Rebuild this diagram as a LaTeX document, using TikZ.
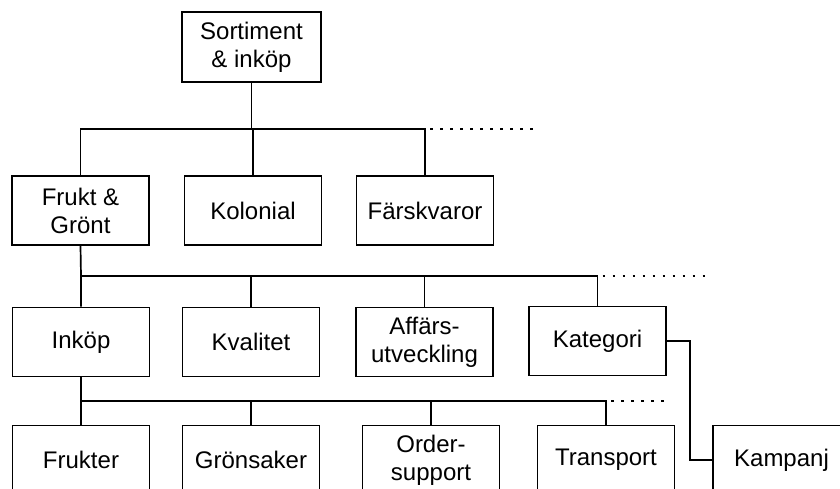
\documentclass[tikz,border=0pt]{standalone}
\usepackage{fontspec}
\setmainfont{Liberation Sans}
\begin{document}
\begin{tikzpicture}[x=1pt,y=-1pt,
  box/.style={draw,line width=1.6pt,minimum width=137pt,minimum height=69pt,
    inner sep=0pt,align=center,font=\fontsize{24}{28}\selectfont},
  link/.style={line width=1.7pt},
  dotline/.style={line width=1.4pt,dash pattern=on 2.5pt off 7.5pt}]
\useasboundingbox[fill=white] (0,0) rectangle (840,489);

% level 1
\node[box,minimum width=139pt,minimum height=70pt] (top) at (251.5,47) {Sortiment\\\& inköp};

% level 2
\node[box] (fg)  at (80.5,210.5) {Frukt \&\\Grönt};
\node[box] (kol) at (253,210.5)  {Kolonial};
\node[box] (fsk) at (425,210.5)  {Färskvaror};

% level 3
\node[box] (ink) at (81,342)    {Inköp};
\node[box] (kva) at (251,342)   {Kvalitet};
\node[box] (aff) at (424.5,342) {Affärs-\\utveckling};
\node[box] (kat) at (597.5,341) {Kategori};

% level 4 (partly below the page edge)
\node[box] (fru) at (81,460)    {Frukter};
\node[box] (gro) at (251,460)   {Grönsaker};
\node[box] (ord) at (431,460)   {Order-\\support};
\node[box] (tra) at (606,460)   {Transport};
\node[box] (kam) at (781.5,460) {Kampanj};

% bus lines
\coordinate (bus1) at (0,129);
\coordinate (bus2) at (0,276);
\coordinate (bus3) at (0,401);
\coordinate (end1) at (535,129);
\coordinate (end2) at (707,276);
\coordinate (end3) at (664,401);
\coordinate (kink) at (690,0);

% level 1 -> level 2
\draw[link] (top.south) -- (top.south |- bus1);
\draw[link] (fg.north) |- (fsk.north |- bus1) -- (fsk.north);
\draw[link] (kol.north) -- (kol.north |- bus1);
\draw[dotline] ([xshift=5pt]fsk.north |- bus1) -- (end1);

% level 2 -> level 3
\draw[link] (fg.south) -- (ink.north |- bus2) -- (ink.north);
\draw[link] (ink.north |- bus2) -- (kat.north |- bus2) -- (kat.north);
\draw[link] (kva.north) -- (kva.north |- bus2);
\draw[link] (aff.north) -- (aff.north |- bus2);
\draw[dotline] ([xshift=5pt]kat.north |- bus2) -- (end2);

% level 3 -> level 4
\draw[link] (ink.south) |- (tra.north |- bus3) -- (tra.north);
\draw[link] (fru.north) -- (fru.north |- bus3);
\draw[link] (gro.north) -- (gro.north |- bus3);
\draw[link] (ord.north) -- (ord.north |- bus3);
\draw[dotline] ([xshift=5pt]tra.north |- bus3) -- (end3);

% Kategori -> Kampanj
\draw[link] (kat.east) -- (kink |- kat.east) -- (kink |- kam.west) -- (kam.west);
\end{tikzpicture}
\end{document}
